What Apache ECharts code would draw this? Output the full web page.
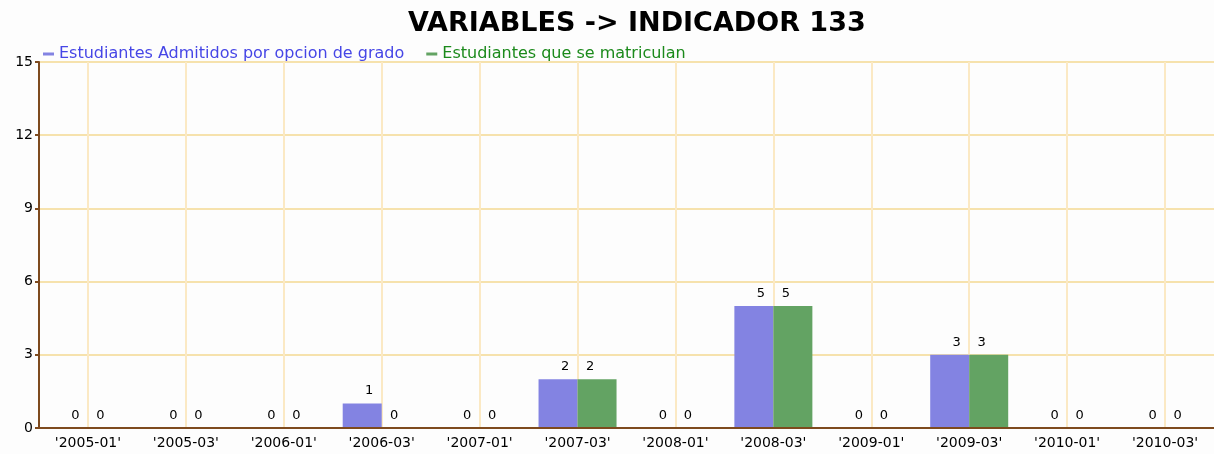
<!DOCTYPE html>
<html>
<head>
<meta charset="utf-8">
<script src="https://cdn.jsdelivr.net/npm/echarts@6/dist/echarts.min.js"></script>
<style>
  html, body { margin: 0; padding: 0; background: #fdfdfd; }
  #chart { width: 1214px; height: 454px; }
</style>
</head>
<body>
<div id="chart"></div>
<script>
// chart data
var periods = ["'2005-01'", "'2005-03'", "'2006-01'", "'2006-03'", "'2007-01'", "'2007-03'",
               "'2008-01'", "'2008-03'", "'2009-01'", "'2009-03'", "'2010-01'", "'2010-03'"];
var admitidos = [0, 0, 0, 1, 0, 2, 0, 5, 0, 3, 0, 0];
var matriculan = [0, 0, 0, 0, 0, 2, 0, 5, 0, 3, 0, 0];
var yTicks = [0, 3, 6, 9, 12, 15];

var font = "DejaVu Sans, Verdana, sans-serif";
var axisBrown = "#7e4a1e";
var gridColor = "#f6e2ad";

var chart = echarts.init(document.getElementById("chart"));

var option = {
  backgroundColor: "#fdfdfd",
  animation: false,
  title: {
    text: "VARIABLES -> INDICADOR 133",
    left: 403,
    top: 5,
    textStyle: { fontFamily: font, fontWeight: "bold", fontSize: 27, color: "#000" }
  },
  legend: {
    left: 38,
    top: 41,
    icon: "rect",
    itemWidth: 11,
    itemHeight: 3,
    itemGap: 22,
    textStyle: { fontFamily: font, fontSize: 16 },
    data: [
      { name: "Estudiantes Admitidos por opcion de grado", textStyle: { color: "#4646e6" } },
      { name: "Estudiantes que se matriculan", textStyle: { color: "#1b8a1b" } }
    ]
  },
  grid: { left: 39, top: 62, width: 1179, height: 366 },
  xAxis: {
    type: "category",
    data: periods,
    z: 4,
    axisLine: { lineStyle: { color: axisBrown, width: 2 } },
    axisTick: { alignWithLabel: true, length: 4, lineStyle: { color: axisBrown, width: 2 } },
    axisLabel: { color: "#000", fontFamily: font, fontSize: 14, margin: 8 },
    splitLine: { show: false }
  },
  yAxis: {
    type: "value",
    min: 0,
    max: yTicks[yTicks.length - 1],
    interval: 3,
    axisLine: { show: true, lineStyle: { color: axisBrown, width: 2 } },
    axisTick: { show: true, length: 4, lineStyle: { color: axisBrown, width: 2 } },
    axisLabel: { color: "#000", fontFamily: font, fontSize: 14, margin: 6 },
    splitLine: { lineStyle: { color: gridColor, width: 2 } }
  },
  series: [
    {
      // carrier for vertical grid lines at category centres
      name: "grid",
      type: "line",
      data: [],
      silent: true,
      z: 0,
      markLine: {
        silent: true,
        z: 0,
        symbol: "none",
        label: { show: false },
        lineStyle: { color: "#fbe9c4", width: 2, type: "solid" },
        data: periods.map(function (p) { return { xAxis: p }; })
      }
    },
    {
      name: "Estudiantes Admitidos por opcion de grado",
      type: "bar",
      data: admitidos,
      z: 3,
      barWidth: 39,
      barGap: "0%",
      itemStyle: { color: "#8383e2" },
      label: {
        show: true, position: "top", distance: 6, offset: [7, 0],
        color: "#000", fontFamily: font, fontSize: 13
      }
    },
    {
      name: "Estudiantes que se matriculan",
      type: "bar",
      data: matriculan,
      z: 3,
      barWidth: 39,
      itemStyle: { color: "#63a363" },
      label: {
        show: true, position: "top", distance: 6, offset: [-7, 0],
        color: "#000", fontFamily: font, fontSize: 13
      }
    }
  ]
};

chart.setOption(option);
</script>
</body>
</html>
